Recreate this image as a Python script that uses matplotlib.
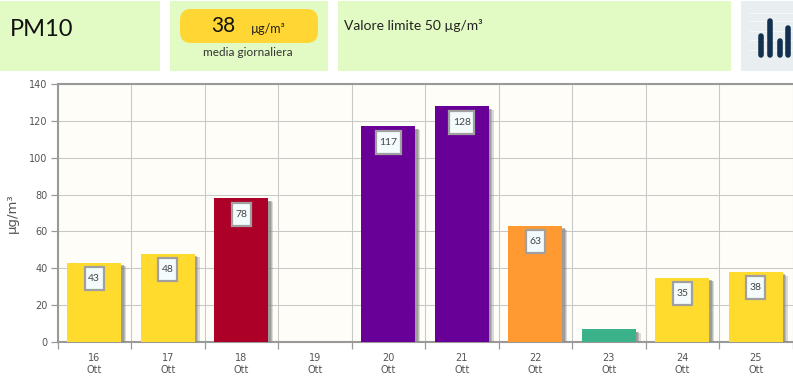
import matplotlib
matplotlib.use('Agg')
import matplotlib.pyplot as plt
import matplotlib.patheffects as pe
from matplotlib.patches import Rectangle, FancyBboxPatch
from matplotlib.path import Path

W, H = 793, 380

days = ['16', '17', '18', '19', '20', '21', '22', '23', '24', '25']
month = 'Ott'
values = [43, 48, 78, 0, 117, 128, 63, 7, 35, 38]
labels = ['43', '48', '78', '', '117', '128', '63', '', '35', '38']
colors = ['#ffdb2e', '#ffdb2e', '#ad0029', '#ffffff', '#680097', '#680097',
          '#ff9a33', '#3cb28a', '#ffdb2e', '#ffdb2e']
yticks = [0, 20, 40, 60, 80, 100, 120, 140]
icon_heights = [25, 40, 20, 33]

narrow = ['Lato', 'DejaVu Sans']


# data label box is a bit wider than its text and has a fixed height in pixels
def label_box(x0, y0, width, height, mutation_size):
    cx, cy = x0 + width / 2, y0 + height / 2
    w, h = width + 7, 23
    return Path([(cx - w / 2, cy - h / 2), (cx + w / 2, cy - h / 2), (cx + w / 2, cy + h / 2),
                 (cx - w / 2, cy + h / 2), (cx - w / 2, cy - h / 2)], closed=True)


fig = plt.figure(figsize=(W / 100, H / 100), dpi=100, facecolor='white')

# header strip, drawn in pixel coordinates
top = fig.add_axes([0, 0, 1, 1])
top.set_xlim(0, W)
top.set_ylim(H, 0)
top.axis('off')

for x0, x1 in [(0, 160), (170, 328), (338, 731)]:
    top.add_patch(Rectangle((x0, 1), x1 - x0, 70, color='#e2fbc4', lw=0))
top.add_patch(Rectangle((741, 1), 52, 70, color='#e9eef1', lw=0))
top.add_patch(FancyBboxPatch((180, 9), 138, 34, boxstyle='round,pad=0,rounding_size=11',
                             color='#ffd633', lw=0))

top.text(10, 30, 'PM10', fontsize=17, family=narrow, va='center', color='#111111')
top.text(223.5, 26, '38', fontsize=15, family=narrow, va='center', ha='center', color='#111111')
top.text(268, 29, 'µg/m³', fontsize=9, family=narrow, va='center', ha='center', color='#222222')
top.text(248, 53, 'media giornaliera', fontsize=8.5, family=narrow, va='center', ha='center', color='#333333')
top.text(344, 25, 'Valore limite 50 µg/m³', fontsize=10, family=narrow, va='center', color='#222222')

# small chart icon in the top right corner
for y in [13, 21, 31, 40, 50]:
    top.plot([750, 793], [y, y], color='#f5f7f8', lw=0.8)
for x, h in zip([761, 770, 779.5, 788], icon_heights):
    top.plot([x, x], [58 - h + 2.75, 55.25], color='#12304f', lw=4, solid_capstyle='round')

# main chart
ax = fig.add_axes([57.5 / W, 1 - 342 / H, 735 / W, 258 / H], facecolor='#fffdf7')
ax.set_xlim(-0.5, 9.5)
ax.set_ylim(0, 140)
ax.set_axisbelow(True)

x = range(len(days))
bars = ax.bar(x, values, width=0.73, color=colors, lw=0, zorder=3)
for b, v in zip(bars, values):
    if v == 0:
        b.set_visible(False)
    b.set_path_effects([pe.SimplePatchShadow(offset=(3.6, -2.6), shadow_rgbFace='#8a8a8a', alpha=0.3),
                        pe.SimplePatchShadow(offset=(2.8, -2.2), shadow_rgbFace='#8a8a8a', alpha=0.4),
                        pe.SimplePatchShadow(offset=(2, -1.8), shadow_rgbFace='#8a8a8a', alpha=0.6),
                        pe.Normal()])

for i, lab in enumerate(labels):
    if lab:
        ax.annotate(lab, (i, values[i]), xytext=(0, -11.5), textcoords='offset points',
                    ha='center', va='center', fontsize=7.5, family=narrow, color='#444444', zorder=5,
                    bbox=dict(boxstyle=label_box, fc='#f4fbfd', ec='#a0a0a0', lw=1.6))

ax.set_yticks(yticks)
ax.set_xticks([i - 0.5 for i in range(11)])
ax.set_xticklabels([])
ax.set_xticks(list(x), minor=True)
ax.set_xticklabels([d + '\n' + month for d in days], minor=True)
ax.grid(True, color='#c8c8c8', lw=0.75)
ax.tick_params(axis='x', which='major', length=5, width=0.9, color='#999999')
ax.tick_params(axis='x', which='minor', length=0, pad=8, labelsize=7, labelcolor='#555555')
ax.tick_params(axis='y', length=5, width=0.9, color='#999999', labelsize=7, labelcolor='#555555', pad=2)
for s in ['left', 'top', 'bottom']:
    ax.spines[s].set_color('#999999')
    ax.spines[s].set_linewidth(1.5)
ax.spines['right'].set_color('#c8c8c8')
ax.spines['right'].set_linewidth(0.75)

top.text(12, 213, 'µg/m³', rotation=90, fontsize=9.5, va='center', ha='center', color='#555555')

fig.savefig('out.png', dpi=100)
